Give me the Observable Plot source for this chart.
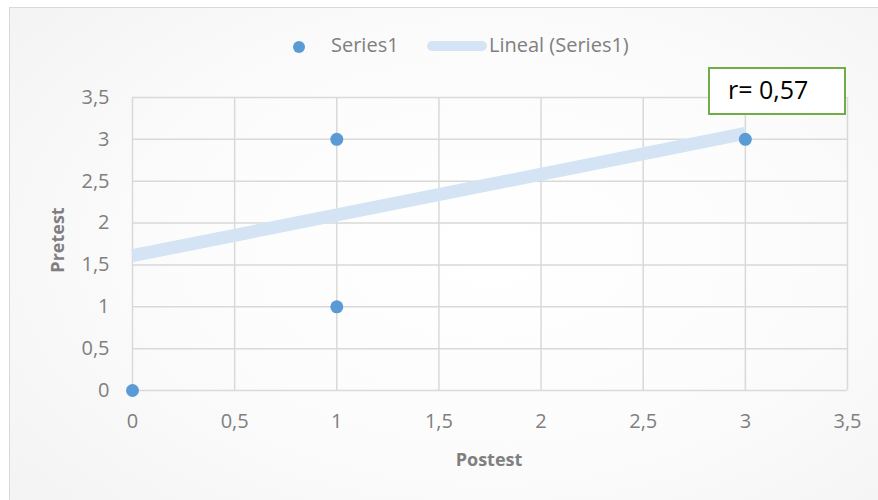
<!DOCTYPE html>
<html><head><meta charset="utf-8">
<script src="https://cdn.jsdelivr.net/npm/d3@7"></script>
<script src="https://cdn.jsdelivr.net/npm/@observablehq/plot@0.6"></script>
<style>
body{margin:0;width:878px;height:500px;overflow:hidden;background:#fff;font-family:"Open Sans",sans-serif;}
#wrap{position:relative;width:878px;height:500px;overflow:hidden;}
#card{position:absolute;left:9px;top:7px;width:920px;height:540px;border:1.5px solid #d9d9d9;background:radial-gradient(ellipse at 52% 45%, #ffffff 0%, #fcfcfc 45%, #f2f2f2 100%);}
#chart{position:absolute;left:0;top:0;}
.leg{position:absolute;color:#7f7f7f;font-size:20px;line-height:20px;white-space:nowrap;}
.title{position:absolute;color:#7f7f7f;font-size:18px;font-weight:bold;white-space:nowrap;line-height:18px;}
#rbox{position:absolute;left:708px;top:67px;width:134px;height:44px;border:2.5px solid #70ad47;background:#fff;color:#000;font-size:25px;line-height:44px;box-sizing:content-box;}
</style>
</head><body>
<div id="wrap">
  <div id="card"></div>
  <div id="chart"></div>
  <div id="legend"></div>
  <div class="title" id="ytitle" style="left:57px;top:240px;transform:translate(-50%,-50%) rotate(-90deg);">Pretest</div>
  <div class="title" id="xtitle" style="left:489px;top:459px;transform:translate(-50%,-50%);">Postest</div>
  <div id="rbox"><span style="position:absolute;left:18px;top:-2px;">r= 0,57</span></div>
</div>
<script>
// Data
const xValues = [0, 1, 1, 3];
const yValues = [0, 1, 3, 3];
const trendX = [0, 3];
const trendY = [1.61, 3.07];
const xTicks = [0, 0.5, 1, 1.5, 2, 2.5, 3, 3.5];
const yTicks = [0, 0.5, 1, 1.5, 2, 2.5, 3, 3.5];
const seriesName = "Series1";
const trendName = "Lineal (Series1)";

const points = xValues.map((x, i) => ({x, y: yValues[i]}));
const trend = trendX.map((x, i) => ({x, y: trendY[i]}));
const fmt = d => String(d).replace(".", ",");

const chart = Plot.plot({
  width: 878, height: 500,
  marginLeft: 132, marginRight: 31, marginTop: 97, marginBottom: 110,
  x: {domain: [0, 3.5]},
  y: {domain: [0, 3.5]},
  style: {background: "transparent", fontFamily: "Open Sans", fontSize: "20px", color: "#7f7f7f"},
  marks: [
    Plot.gridX(xTicks, {stroke: "#d9d9d9", strokeOpacity: 1, strokeWidth: 1.5}),
    Plot.gridY(yTicks, {stroke: "#d9d9d9", strokeOpacity: 1, strokeWidth: 1.5}),
    Plot.axisX(xTicks, {tickSize: 0, tickPadding: 23, tickFormat: fmt, label: null, fontSize: 20}),
    Plot.axisY(yTicks, {tickSize: 0, tickPadding: 23, tickFormat: fmt, label: null, fontSize: 20}),
    Plot.line(trend, {x: "x", y: "y", stroke: "#d5e4f4", strokeWidth: 13, strokeLinecap: "butt"}),
    Plot.dot(points, {x: "x", y: "y", r: 6.5, fill: "#5b9bd5", stroke: "none"})
  ]
});
document.getElementById("chart").appendChild(chart);

const legend = document.getElementById("legend");
legend.innerHTML =
  `<div style="position:absolute;left:293px;top:41px;width:12px;height:12px;border-radius:50%;background:#5b9bd5;"></div>` +
  `<div class="leg" style="left:331px;top:35px;">${seriesName}</div>` +
  `<div style="position:absolute;left:427px;top:41px;width:60px;height:10px;border-radius:5px;background:#d5e4f4;"></div>` +
  `<div class="leg" style="left:489px;top:35px;">${trendName}</div>`;
</script>
</body></html>
